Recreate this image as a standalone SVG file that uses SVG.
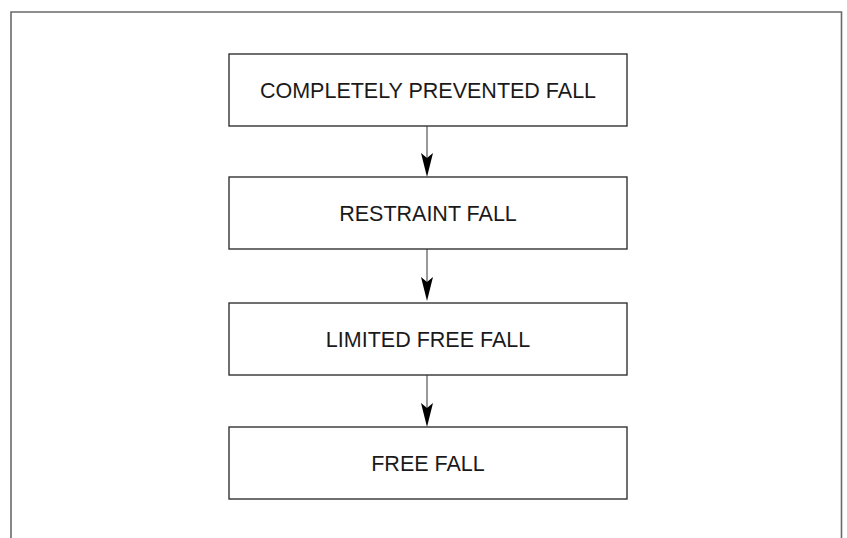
<svg xmlns="http://www.w3.org/2000/svg" width="847" height="538" viewBox="0 0 847 538">
<style>
.frame{fill:none;stroke:#6a6a6a;stroke-width:1.6}
.box{fill:#fff;stroke:#333;stroke-width:1.4}
.lbl{font-family:"Liberation Sans",Arial,sans-serif;font-size:21.5px;fill:#1a1a1a;text-anchor:middle}
.conn{stroke:#555;stroke-width:1.2;fill:none}
.head{fill:#000}
</style>
<rect width="847" height="538" fill="#fff"/>
<path class="frame" d="M11,538 V12 H841.5 V538"/>
<g id="connectors">
<line class="conn" x1="427" y1="126" x2="427" y2="160"/>
<path class="head" d="M421,153 L427,158 L433,153 L427,177 Z"/>
<line class="conn" x1="427" y1="249" x2="427" y2="284"/>
<path class="head" d="M421,277 L427,282 L433,277 L427,301 Z"/>
<line class="conn" x1="427" y1="375" x2="427" y2="410"/>
<path class="head" d="M421,403 L427,408 L433,403 L427,427 Z"/>
</g>
<g id="node1">
<rect class="box" x="229" y="54" width="398" height="72"/>
<text class="lbl" x="428" y="98">COMPLETELY PREVENTED FALL</text>
</g>
<g id="node2">
<rect class="box" x="229" y="177" width="398" height="72"/>
<text class="lbl" x="428" y="221">RESTRAINT FALL</text>
</g>
<g id="node3">
<rect class="box" x="229" y="303" width="398" height="72"/>
<text class="lbl" x="428" y="347">LIMITED FREE FALL</text>
</g>
<g id="node4">
<rect class="box" x="229" y="427" width="398" height="72"/>
<text class="lbl" x="428" y="471">FREE FALL</text>
</g>
</svg>
